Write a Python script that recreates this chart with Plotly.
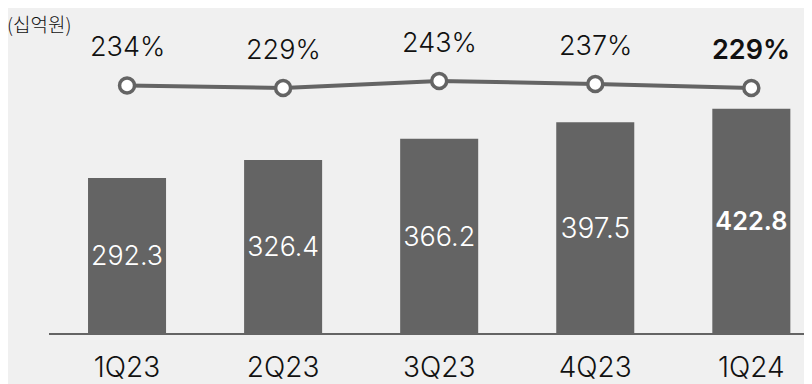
import plotly.graph_objects as go

categories = ["1Q23", "2Q23", "3Q23", "4Q23", "1Q24"]
bar_values = [292.3, 326.4, 366.2, 397.5, 422.8]
ratio_values = [234, 229, 243, 237, 229]
unit_label = "(십억원)"

bar_color = "#646464"
bg = "#f0f0f0"
font_family = "Inter, Roboto, sans-serif"
kr_family = "Noto Sans CJK KR, sans-serif"

bar_text = [f"{v:.1f}" for v in bar_values]
weights = [300] * (len(bar_values) - 1) + [600]

fig = go.Figure()
fig.add_trace(go.Bar(
    x=categories, y=bar_values, width=0.5,
    marker=dict(color=bar_color, line=dict(width=0)),
    text=bar_text, textposition="inside", insidetextanchor="middle",
    textfont=dict(color="white", size=28, family=font_family, weight=weights),
    textangle=0,
))
fig.add_trace(go.Scatter(
    x=categories, y=ratio_values, yaxis="y2", mode="lines+markers",
    line=dict(color=bar_color, width=4),
    marker=dict(size=15, color="white", line=dict(color=bar_color, width=3.5)),
))
for i, (c, r) in enumerate(zip(categories, ratio_values)):
    fig.add_annotation(x=c, y=r, yref="y2", text=f"{r}%", showarrow=False,
                       yshift=39, font=dict(size=27, color="#111111", family=font_family,
                                            weight=weights[i]))

fig.add_annotation(x=0, y=1, xref="paper", yref="paper", xanchor="left", yanchor="top",
                   xshift=-44, yshift=2, text=unit_label, showarrow=False,
                   font=dict(size=19, color="#111111", family=kr_family, weight=300))

fig.update_layout(
    width=812, height=384,
    margin=dict(l=41, r=0, t=2, b=59, autoexpand=False),
    paper_bgcolor=bg, plot_bgcolor=bg,
    showlegend=False, bargap=0.5,
    xaxis=dict(range=[-0.5, 4.44], showgrid=False, showline=True, linecolor=bar_color, linewidth=2,
               ticks="", automargin=False, ticklabelstandoff=8,
               tickfont=dict(size=28, color="#111111", family=font_family, weight=300)),
    yaxis=dict(range=[0, 609], visible=False, automargin=False),
    yaxis2=dict(range=[-261, 385], overlaying="y", visible=False, automargin=False),
)
fig.write_html("out.html")
